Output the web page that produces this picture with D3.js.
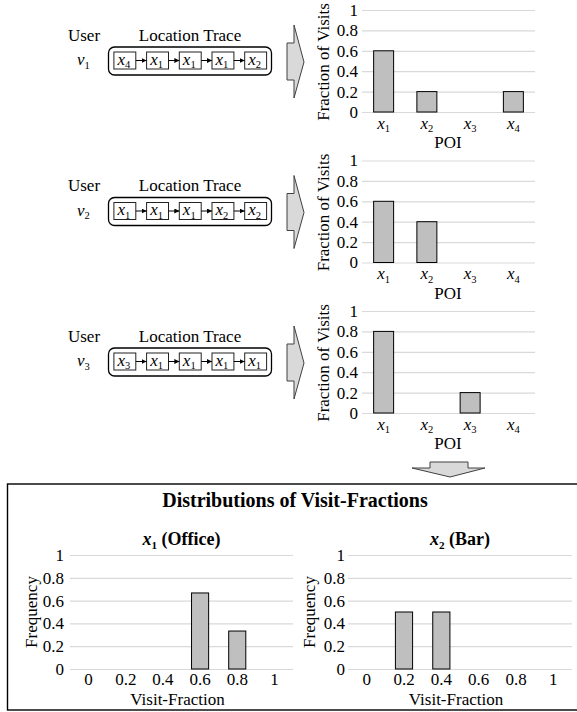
<!DOCTYPE html>
<html>
<head>
<meta charset="utf-8">
<script src="https://cdn.jsdelivr.net/npm/d3@7"></script>
<style>
  body { margin: 0; background: #fff; }
</style>
</head>
<body>
<div class="chart"></div>
<script>
// ---- data ----
const users = ['1', '2', '3'];                       // v subscripts
const traces = [
    ['4', '1', '1', '1', '2'],
    ['1', '1', '1', '2', '2'],
    ['3', '1', '1', '1', '1']
];                                                    // x subscripts along each trace
const pois = ['1', '2', '3', '4'];                   // x1..x4
const visitFractions = [
    [0.6, 0.2, 0, 0.2],
    [0.6, 0.4, 0, 0],
    [0.8, 0, 0.2, 0]
];
const fracBins = ['0', '0.2', '0.4', '0.6', '0.8', '1'];
const officeFreq = [0, 0, 0, 0.667, 0.333, 0];
const barFreq = [0, 0.5, 0.5, 0, 0, 0];
const yTicks = [0, 0.2, 0.4, 0.6, 0.8, 1];
const panels = [
    {sub: '1', name: ' (Office)', values: officeFreq},
    {sub: '2', name: ' (Bar)', values: barFreq}
];

const W = 577, H = 712;
const fs = 17;
const font = 'Liberation Serif';
const gridColor = '#d9d9d9';
const barFill = '#bfbfbf';
const rowStep = 150.5;

const svg = d3.select('.chart')
    .append('svg')
    .attr('width', W)
    .attr('height', H)
    .attr('font-family', font);

svg.append('defs')
    .append('marker')
    .attr('id', 'head')
    .attr('viewBox', '0 0 10 10')
    .attr('refX', 10).attr('refY', 5)
    .attr('markerWidth', 5).attr('markerHeight', 5)
    .attr('markerUnits', 'userSpaceOnUse')
    .attr('orient', 'auto')
    .append('path')
    .attr('d', 'M0,0L10,5L0,10Z')
    .attr('fill', '#000');

// italic x / v with upright subscript
function subLabel(sel, base, sub, size, bold) {
    sel.text('');
    sel.append('tspan')
        .attr('font-style', 'italic')
        .attr('font-weight', bold ? 'bold' : null)
        .text(base);
    sel.append('tspan')
        .attr('font-size', size * 0.62)
        .attr('font-weight', bold ? 'bold' : null)
        .attr('dy', size * 0.22)
        .text(sub);
}

const boxX = d3.scaleBand()
    .domain(d3.range(5))
    .range([108.5, 272])
    .paddingInner(0.33)
    .paddingOuter(0.165);

// ---- three user rows ----
users.forEach((u, r) => {
    const g = svg.append('g').attr('transform', `translate(0, ${r * rowStep})`);

    g.append('text').attr('x', 84).attr('y', 40.5)
        .attr('text-anchor', 'middle').attr('font-size', fs).text('User');
    g.append('text').attr('x', 190).attr('y', 40.5)
        .attr('text-anchor', 'middle').attr('font-size', fs).text('Location Trace');

    g.append('text').attr('x', 77).attr('y', 65)
        .attr('font-size', fs)
        .call(s => subLabel(s, 'v', u, fs));

    g.append('rect')
        .attr('x', 108.5).attr('y', 47)
        .attr('width', 163).attr('height', 28)
        .attr('rx', 6)
        .attr('fill', 'none')
        .attr('stroke', '#000')
        .attr('stroke-width', 1.3);

    const trace = traces[r];
    g.selectAll('.box')
        .data(trace)
        .enter()
        .append('rect')
        .attr('class', 'box')
        .attr('x', (d, i) => boxX(i))
        .attr('y', 52)
        .attr('width', boxX.bandwidth())
        .attr('height', 17)
        .attr('fill', 'none')
        .attr('stroke', '#222')
        .attr('stroke-width', 1);

    g.selectAll('.boxlabel')
        .data(trace)
        .enter()
        .append('text')
        .attr('class', 'boxlabel')
        .attr('x', (d, i) => boxX(i) + boxX.bandwidth() / 2 - 1)
        .attr('y', 64.5)
        .attr('text-anchor', 'middle')
        .attr('font-size', fs)
        .each(function(d) { subLabel(d3.select(this), 'x', d, fs); });

    g.selectAll('.link')
        .data(trace.slice(1))
        .enter()
        .append('line')
        .attr('class', 'link')
        .attr('x1', (d, i) => boxX(i) + boxX.bandwidth())
        .attr('x2', (d, i) => boxX(i + 1))
        .attr('y1', 60.5).attr('y2', 60.5)
        .attr('stroke', '#000')
        .attr('stroke-width', 1)
        .attr('marker-end', 'url(#head)');

    // block arrow to the right
    g.append('polygon')
        .attr('points', '287,43 294,43 294,25 304,62 294,98 294,80 287,80')
        .attr('fill', '#d9d9d9')
        .attr('stroke', '#404040')
        .attr('stroke-width', 1);

    // bar chart of visit fractions
    const x = d3.scaleBand()
        .domain(pois)
        .range([362, 535])
        .paddingInner(0.538)
        .paddingOuter(0.269);
    const y = d3.scaleLinear()
        .domain([0, 1])
        .range([112, 10]);

    const yAxis = g.append('g')
        .attr('class', 'axis y-axis')
        .attr('transform', 'translate(362, 0)')
        .call(d3.axisLeft(y).tickValues(yTicks).tickSize(-(535 - 362)).tickPadding(4)
            .tickFormat(d3.format('~g')))
        .attr('font-family', font)
        .attr('font-size', fs);
    yAxis.select('.domain').remove();
    yAxis.selectAll('line').attr('stroke', gridColor).attr('stroke-width', 1.2);

    const xAxis = g.append('g')
        .attr('class', 'axis x-axis')
        .attr('transform', 'translate(0, 112)')
        .call(d3.axisBottom(x).tickSize(0).tickPadding(4.5))
        .attr('font-family', font)
        .attr('font-size', fs);
    xAxis.select('.domain').remove();
    xAxis.selectAll('text')
        .each(function(d) { subLabel(d3.select(this), 'x', d, fs); });

    g.selectAll('.bar')
        .data(visitFractions[r].map((v, i) => ({poi: pois[i], v})).filter(d => d.v > 0))
        .enter()
        .append('rect')
        .attr('class', 'bar')
        .attr('x', d => x(d.poi))
        .attr('y', d => y(d.v))
        .attr('width', x.bandwidth())
        .attr('height', d => y(0) - y(d.v))
        .attr('fill', barFill)
        .attr('stroke', '#000')
        .attr('stroke-width', 1);

    g.append('text')
        .attr('x', 448).attr('y', 148)
        .attr('text-anchor', 'middle')
        .attr('font-size', fs)
        .text('POI');

    g.append('text')
        .attr('transform', 'translate(323, 62) rotate(-90)')
        .attr('text-anchor', 'middle')
        .attr('dominant-baseline', 'central')
        .attr('font-size', fs)
        .text('Fraction of Visits');
});

// ---- down arrow ----
svg.append('polygon')
    .attr('points', '430,462 468,462 468,468 485,468 450,477 412,468 430,468')
    .attr('fill', '#d9d9d9')
    .attr('stroke', '#404040')
    .attr('stroke-width', 1);

// ---- bottom box ----
svg.append('rect')
    .attr('x', 7.5).attr('y', 484)
    .attr('width', 600).attr('height', 226)
    .attr('fill', 'none')
    .attr('stroke', '#000')
    .attr('stroke-width', 1.4);

svg.append('text')
    .attr('x', 295).attr('y', 507)
    .attr('text-anchor', 'middle')
    .attr('font-size', 20)
    .attr('font-weight', 'bold')
    .text('Distributions of Visit-Fractions');

const panelX = [[70, 293], [348, 572]];
const yB = d3.scaleLinear().domain([0, 1]).range([669, 555]);

panels.forEach((p, k) => {
    const [x0, x1] = panelX[k];
    const g = svg.append('g');
    const x = d3.scaleBand()
        .domain(fracBins)
        .range([x0, x1])
        .paddingInner(0.54)
        .paddingOuter(0.27);

    const yAxis = g.append('g')
        .attr('class', 'axis y-axis')
        .attr('transform', `translate(${x0}, 0)`)
        .call(d3.axisLeft(yB).tickValues(yTicks).tickSize(-(x1 - x0)).tickPadding(k === 0 ? 6 : 3)
            .tickFormat(d3.format('~g')))
        .attr('font-family', font)
        .attr('font-size', fs);
    yAxis.select('.domain').remove();
    yAxis.selectAll('line').attr('stroke', gridColor).attr('stroke-width', 1.2);

    const xAxis = g.append('g')
        .attr('class', 'axis x-axis')
        .attr('transform', 'translate(0, 669)')
        .call(d3.axisBottom(x).tickSize(0).tickPadding(4))
        .attr('font-family', font)
        .attr('font-size', fs);
    xAxis.select('.domain').remove();

    g.selectAll('.bar')
        .data(p.values.map((v, i) => ({bin: fracBins[i], v})).filter(d => d.v > 0))
        .enter()
        .append('rect')
        .attr('class', 'bar')
        .attr('x', d => x(d.bin))
        .attr('y', d => yB(d.v))
        .attr('width', x.bandwidth())
        .attr('height', d => yB(0) - yB(d.v))
        .attr('fill', barFill)
        .attr('stroke', '#000')
        .attr('stroke-width', 1);

    const cx = (x0 + x1) / 2;
    const t = g.append('text')
        .attr('x', cx).attr('y', 545)
        .attr('text-anchor', 'middle')
        .attr('font-size', 18);
    subLabel(t, 'x', p.sub, 18, true);
    t.append('tspan')
        .attr('dy', -18 * 0.22)
        .attr('font-weight', 'bold')
        .text(p.name);

    g.append('text')
        .attr('x', cx - 4).attr('y', 705)
        .attr('text-anchor', 'middle')
        .attr('font-size', fs)
        .text('Visit-Fraction');

    g.append('text')
        .attr('transform', `translate(${k === 0 ? 31 : 309}, 612) rotate(-90)`)
        .attr('text-anchor', 'middle')
        .attr('dominant-baseline', 'central')
        .attr('font-size', fs)
        .text('Frequency');
});
</script>
</body>
</html>
